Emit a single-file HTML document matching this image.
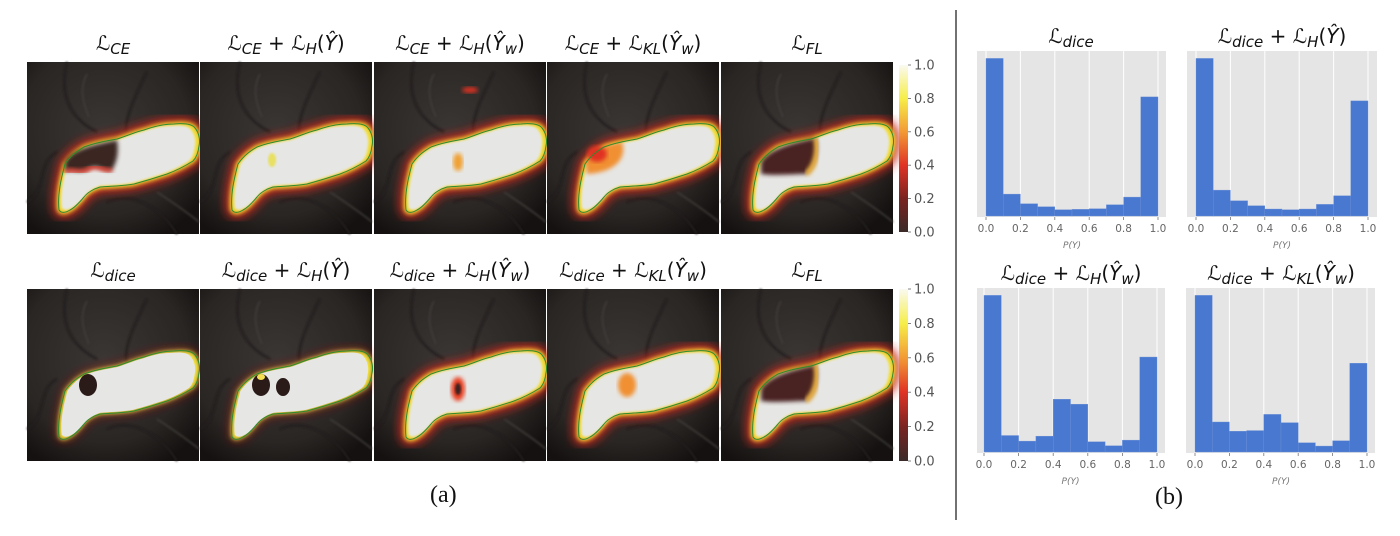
<!DOCTYPE html>
<html><head><meta charset="utf-8">
<style>
body{margin:0;background:#fff;width:1400px;height:536px;overflow:hidden;position:relative;font-family:"Liberation Sans","DejaVu Sans",sans-serif}
.t{position:absolute;font-family:"DejaVu Sans","Liberation Sans",sans-serif;font-size:20px;color:#111;white-space:nowrap;transform:translateX(-50%)}
.t sub{font-style:italic;font-size:15px;vertical-align:-4px}
.t i{font-style:italic}
.cap{position:absolute;font-family:"Liberation Serif",serif;font-size:24px;color:#111}
</style></head><body>
<svg id="fig" width="1400" height="536" style="position:absolute;left:0;top:0">
<defs>
<filter id="bl6"><feGaussianBlur stdDeviation="5"/></filter>
<filter id="bl3"><feGaussianBlur stdDeviation="2.2"/></filter>
<filter id="bl1"><feGaussianBlur stdDeviation="1"/></filter>
<radialGradient id="bg" cx="0.45" cy="0.4" r="0.7"><stop offset="0" stop-color="#3a3634"/><stop offset="0.7" stop-color="#2a2624"/><stop offset="1" stop-color="#141110"/></radialGradient>
<linearGradient id="cb" x1="0" y1="1" x2="0" y2="0"><stop offset="0" stop-color="#3a2a28"/><stop offset="0.2" stop-color="#7a2422"/><stop offset="0.4" stop-color="#e03325"/><stop offset="0.6" stop-color="#f29a35"/><stop offset="0.8" stop-color="#f6ee4a"/><stop offset="1" stop-color="#fafaf2"/></linearGradient>
</defs>
<line x1="956" y1="10" x2="956" y2="520" stroke="#444" stroke-width="1.5"/>
<g id="tiles"></g>
<g id="hists"></g>
</svg>
<div class="t" style="left:113px;top:31px">ℒ<sub>CE</sub></div>
<div class="t" style="left:286px;top:31px">ℒ<sub>CE</sub> + ℒ<sub>H</sub>(<i>Ŷ</i>)</div>
<div class="t" style="left:460px;top:31px">ℒ<sub>CE</sub> + ℒ<sub>H</sub>(<i>Ŷ<sub>w</sub></i>)</div>
<div class="t" style="left:633px;top:31px">ℒ<sub>CE</sub> + ℒ<sub>KL</sub>(<i>Ŷ<sub>w</sub></i>)</div>
<div class="t" style="left:807px;top:31px">ℒ<sub>FL</sub></div>
<div class="t" style="left:113px;top:258px">ℒ<sub>dice</sub></div>
<div class="t" style="left:286px;top:258px">ℒ<sub>dice</sub> + ℒ<sub>H</sub>(<i>Ŷ</i>)</div>
<div class="t" style="left:460px;top:258px">ℒ<sub>dice</sub> + ℒ<sub>H</sub>(<i>Ŷ<sub>w</sub></i>)</div>
<div class="t" style="left:633px;top:258px">ℒ<sub>dice</sub> + ℒ<sub>KL</sub>(<i>Ŷ<sub>w</sub></i>)</div>
<div class="t" style="left:807px;top:258px">ℒ<sub>FL</sub></div>
<div class="t" style="left:1071px;top:24px">ℒ<sub>dice</sub></div>
<div class="t" style="left:1282px;top:24px">ℒ<sub>dice</sub> + ℒ<sub>H</sub>(<i>Ŷ</i>)</div>
<div class="t" style="left:1071px;top:261px">ℒ<sub>dice</sub> + ℒ<sub>H</sub>(<i>Ŷ<sub>w</sub></i>)</div>
<div class="t" style="left:1281px;top:261px">ℒ<sub>dice</sub> + ℒ<sub>KL</sub>(<i>Ŷ<sub>w</sub></i>)</div>
<div class="cap" style="left:430px;top:482px">(a)</div>
<div class="cap" style="left:1155px;top:484px">(b)</div>
<script>
const binEdges=[0,0.1,0.2,0.3,0.4,0.5,0.6,0.7,0.8,0.9,1.0];
const xTicks=[0,0.2,0.4,0.6,0.8,1.0];
const xTickLabels=["0.0","0.2","0.4","0.6","0.8","1.0"];
const histDice=[475,66,37,28,19,20,22,34,57,359];
const histDiceH=[475,78,46,31,21,19,21,35,61,347];
const histDiceHw=[475,50,33,48,160,145,31,19,36,288];
const histDiceKl=[475,91,63,65,114,89,28,18,34,269];
const cbTicks=[0,0.2,0.4,0.6,0.8,1.0];
const cbTickLabels=["0.0","0.2","0.4","0.6","0.8","1.0"];
const NS="http://www.w3.org/2000/svg";
function mk(tag,attrs,parent){const e=document.createElementNS(NS,tag);for(const k in attrs)e.setAttribute(k,attrs[k]);parent.appendChild(e);return e;}
const hists=document.getElementById('hists');
const panels=[
 {vals:histDice,ax0:977,ax1:1166,x0:986,x1:1158,top:51,base:217,name:'hist-dice'},
 {vals:histDiceH,ax0:1187,ax1:1377,x0:1196,x1:1368,top:51,base:217,name:'hist-dice-h'},
 {vals:histDiceHw,ax0:977,ax1:1165,x0:984,x1:1157,top:288,base:453,name:'hist-dice-hw'},
 {vals:histDiceKl,ax0:1186,ax1:1375,x0:1195,x1:1367,top:288,base:453,name:'hist-dice-kl'}];
panels.forEach(p=>{
 const g=mk('g',{},hists);
 
 
 const bg=mk('rect',{x:p.ax0,y:p.top,width:p.ax1-p.ax0,height:p.base-p.top,fill:'#e5e5e5'},g);
 
 
 const xs=v=>p.x0+(p.x1-p.x0)*v;
 const ymax=Math.max(...p.vals)/0.955;
 const ys=v=>(p.base-1)-(p.base-1-p.top)*v/ymax;
 xTicks.forEach((t,i)=>{
  const gl=mk('line',{x1:xs(t),x2:xs(t),y1:p.top,y2:p.base,stroke:'#fff','stroke-width':1},g);
  
  
  const tk=mk('line',{x1:xs(t),x2:xs(t),y1:p.base,y2:p.base+3,stroke:'#777','stroke-width':0.8},g);
  
  
  const tl=mk('text',{x:xs(t),y:p.base+15,'text-anchor':'middle','font-size':'10.5','fill':'#666','font-family':'DejaVu Sans, sans-serif'},g);
  tl.textContent=xTickLabels[i];
  
  
 });
 p.vals.forEach((v,i)=>{
  const r=mk('rect',{x:xs(binEdges[i]),y:ys(v),width:xs(binEdges[i+1])-xs(binEdges[i]),height:(p.base-1)-ys(v),fill:'#4878cf',stroke:'#6e92d8','stroke-width':0.4},g);
  
  
 });
 const xl=mk('text',{x:(p.x0+p.x1)/2,y:p.base+31,'text-anchor':'middle','font-size':'9','fill':'#777','font-style':'italic','font-family':'DejaVu Sans, sans-serif'},g);
 xl.textContent='P(Y)';
 
 
});
// image tiles
const tilesG=document.getElementById('tiles');
const blob="M32,148 C30,130 36,110 38,102 C45,92 52,88 57,85 C70,80 80,79 90,77 C100,74 108,70 117,68 C128,64 138,62 147,62 C158,61 165,62 168,66 C173,72 173,80 172,84 C171,92 169,96 166,99 C155,106 148,109 140,112 C128,116 118,119 107,122 C95,124 85,124 73,125 C66,127 60,131 57,135 C52,141 47,146 43,148 C38,151 34,151 32,148 Z";
const tileX=[27,200,374,547,721];
const tileY=[62,289];
const tileNames=[["tile-ce","tile-ce-h","tile-ce-hw","tile-ce-kl","tile-fl"],["tile-dice","tile-dice-h","tile-dice-hw","tile-dice-kl","tile-fl-2"]];
tileY.forEach((ty,r)=>tileX.forEach((tx,c)=>{
 const g=mk('g',{transform:`translate(${tx},${ty})`},tilesG);
 
 
 mk('rect',{x:0,y:0,width:172,height:172,fill:'url(#bg)'},g);
 mk('path',{d:"M40,0 C30,40 50,60 70,70 M120,10 C110,30 95,60 100,75 M0,140 C20,130 10,100 30,90 M80,140 C100,130 130,140 150,172",fill:'none',stroke:'#211d1c','stroke-width':2,filter:'url(#bl1)'},g);
 mk('path',{d:"M60,12 C50,30 60,50 62,55 M130,130 C145,140 160,150 172,160",fill:'none',stroke:'#403c3a','stroke-width':1.5,filter:'url(#bl1)'},g);
 const dice=r===1&&c<2;
 mk('path',{d:blob,fill:'none',stroke:'#c8281c','stroke-width':dice?3:12,filter:'url(#bl6)'},g);
 mk('path',{d:blob,fill:'#f0e040',stroke:'#f0d830','stroke-width':dice?1:4,filter:'url(#bl3)'},g);
 mk('path',{d:blob,fill:'#e6e6e4',transform:'translate(86,100) scale(0.95) translate(-86,-100)',filter:dice?'':'url(#bl1)'},g);
 if(c===0&&r===0){mk('path',{d:"M38,100 C45,88 60,84 90,78 C92,90 90,100 85,108 C75,110 70,100 60,108 C50,112 45,106 38,110 Z",fill:'#3a2522',filter:'url(#bl3)'},g);mk('path',{d:"M38,110 C45,106 50,112 60,108 C70,100 75,110 85,108",fill:'none',stroke:'#e03020','stroke-width':4,filter:'url(#bl3)'},g);}
 if(c===4){mk('path',{d:"M40,100 C48,88 65,82 95,76 C98,90 94,105 85,112 C70,112 55,114 40,112 Z",fill:'#4a2420',filter:'url(#bl3)'},g);mk('path',{d:"M95,76 C98,90 94,105 85,112",fill:'none',stroke:'#f0b030','stroke-width':5,filter:'url(#bl3)'},g);}
 if(r===0&&c===1){mk('ellipse',{cx:72,cy:98,rx:4,ry:7,fill:'#e8e060',filter:'url(#bl1)'},g);}
 if(r===0&&c===2){mk('ellipse',{cx:84,cy:100,rx:5,ry:9,fill:'#f0a030',filter:'url(#bl3)'},g);mk('ellipse',{cx:96,cy:28,rx:8,ry:3,fill:'#e03020',filter:'url(#bl3)'},g);}
 if(r===0&&c===3){mk('path',{d:"M38,100 C48,85 60,82 75,80 C80,95 70,110 40,112 Z",fill:'#f09030',filter:'url(#bl3)'},g);mk('ellipse',{cx:50,cy:92,rx:10,ry:8,fill:'#e03020',filter:'url(#bl3)'},g);}
 if(r===1&&c===0){mk('ellipse',{cx:61,cy:96,rx:9,ry:11,fill:'#2a1a18'},g);}
 if(r===1&&c===1){mk('ellipse',{cx:61,cy:96,rx:9,ry:11,fill:'#2a1a18'},g);mk('ellipse',{cx:61,cy:88,rx:4,ry:3,fill:'#f4e050'},g);mk('ellipse',{cx:83,cy:98,rx:7,ry:9,fill:'#2a1a18'},g);}
 if(r===1&&c===2){mk('ellipse',{cx:84,cy:100,rx:7,ry:12,fill:'#e84020',filter:'url(#bl3)'},g);mk('ellipse',{cx:84,cy:100,rx:3,ry:6,fill:'#3a2020',filter:'url(#bl1)'},g);}
 if(r===1&&c===3){mk('ellipse',{cx:80,cy:96,rx:9,ry:12,fill:'#f09030',filter:'url(#bl3)'},g);}
 mk('path',{d:blob,fill:'none',stroke:'#2e8b2e','stroke-width':1},g);
}));
// colorbars
[[65,232],[289,461]].forEach(([y0,y1],k)=>{
 const g=mk('g',{},tilesG);
 
 
 mk('rect',{x:899,y:y0,width:9,height:y1-y0,fill:'url(#cb)'},g);
 cbTicks.forEach((t,i)=>{
  const y=y1-(y1-y0)*t;
  mk('line',{x1:908,x2:911,y1:y,y2:y,stroke:'#666','stroke-width':0.8},g);
  const tl=mk('text',{x:914,y:y+4.5,'font-size':'13','fill':'#555','font-family':'DejaVu Sans, sans-serif'},g);
  tl.textContent=cbTickLabels[i];
  
  
 });
});
</script>
</body></html>
